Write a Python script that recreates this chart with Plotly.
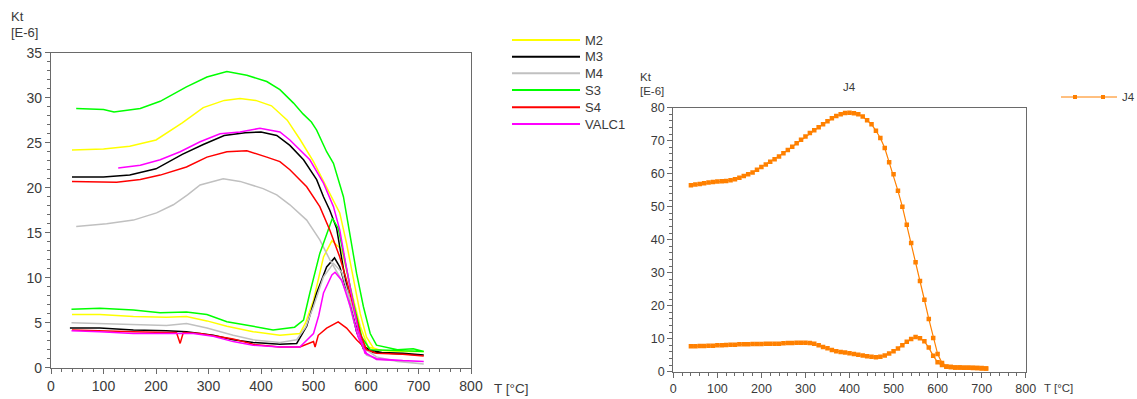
import plotly.graph_objects as go

W, H = 1137, 399

# ---------------- data (left chart) ----------------
M2_heat_T = [40, 100, 150, 200, 250, 290, 330, 360, 390, 420, 450, 475, 500, 525, 550, 563, 576, 589, 601, 614, 630, 670, 710]
M2_heat_K = [24.2, 24.3, 24.6, 25.3, 27.2, 28.9, 29.7, 29.9, 29.7, 29.1, 27.5, 25.3, 22.9, 20.1, 17.2, 13.8, 10.1, 6.0, 3.4, 2.2, 1.9, 1.8, 1.8]
M2_cool_T = [710, 670, 630, 604, 589, 570, 554, 535, 519, 500, 485, 474, 436, 385, 335, 297, 258, 220, 157, 93, 40]
M2_cool_K = [1.8, 1.8, 1.9, 2.3, 4.6, 9.0, 13.1, 14.1, 12.3, 7.5, 5.0, 3.8, 3.6, 4.0, 4.6, 5.2, 5.7, 5.6, 5.7, 5.9, 5.9]

M3_heat_T = [40, 100, 150, 200, 250, 290, 330, 370, 400, 430, 455, 481, 506, 519, 531, 544, 557, 570, 582, 595, 630, 670, 710]
M3_heat_K = [21.2, 21.2, 21.4, 22.1, 23.7, 24.8, 25.8, 26.1, 26.2, 25.8, 24.7, 23.1, 20.9, 19.0, 17.5, 15.5, 11.0, 7.0, 4.0, 2.1, 1.7, 1.6, 1.4]
M3_cool_T = [710, 670, 630, 614, 598, 579, 563, 550, 540, 525, 506, 487, 468, 436, 385, 347, 309, 258, 220, 157, 93, 36]
M3_cool_K = [1.4, 1.5, 1.6, 1.7, 2.3, 4.9, 8.6, 11.2, 12.2, 11.2, 8.3, 4.6, 2.7, 2.6, 2.8, 3.1, 3.6, 4.0, 4.1, 4.2, 4.4, 4.4]

M4_heat_T = [48, 106, 157, 201, 233, 260, 284, 328, 360, 404, 430, 455, 487, 512, 531, 550, 563, 576, 589, 601, 620, 660, 710]
M4_heat_K = [15.7, 16.0, 16.4, 17.2, 18.1, 19.2, 20.3, 21.0, 20.7, 19.9, 19.2, 18.1, 16.4, 14.2, 12.0, 10.1, 8.3, 5.3, 3.0, 1.4, 1.0, 0.7, 0.4]
M4_cool_T = [710, 660, 620, 600, 585, 570, 554, 538, 519, 500, 485, 468, 436, 385, 347, 297, 258, 220, 157, 93, 39]
M4_cool_K = [0.4, 0.7, 1.2, 2.0, 4.5, 7.5, 10.6, 11.6, 10.1, 6.8, 4.5, 3.1, 2.8, 3.1, 3.6, 4.4, 4.9, 4.7, 4.8, 4.9, 5.0]

S3_heat_T = [48, 100, 120, 170, 208, 258, 297, 335, 373, 411, 436, 462, 480, 496, 506, 525, 538, 557, 570, 582, 595, 608, 620, 660, 690, 710]
S3_heat_K = [28.8, 28.7, 28.4, 28.8, 29.6, 31.2, 32.3, 32.9, 32.5, 31.8, 30.9, 29.4, 28.2, 27.3, 26.4, 24.0, 22.7, 19.0, 14.6, 10.5, 6.8, 3.8, 2.5, 2.0, 2.1, 1.8]
S3_cool_T = [710, 660, 620, 608, 592, 576, 557, 547, 536, 512, 493, 481, 464, 423, 385, 335, 297, 258, 208, 157, 93, 39]
S3_cool_K = [1.8, 1.9, 2.0, 2.0, 3.4, 7.2, 12.7, 15.5, 16.6, 12.7, 8.3, 5.3, 4.5, 4.2, 4.6, 5.1, 5.9, 6.2, 6.1, 6.4, 6.6, 6.5]

S4_heat_T = [40, 125, 170, 208, 258, 297, 335, 373, 411, 436, 455, 487, 512, 531, 550, 563, 576, 589, 601, 620, 670, 710]
S4_heat_K = [20.7, 20.6, 20.9, 21.4, 22.3, 23.4, 24.0, 24.1, 23.4, 22.9, 22.0, 20.1, 17.9, 15.3, 12.3, 9.7, 6.8, 3.8, 2.0, 1.6, 1.5, 1.3]
S4_cool_T = [710, 670, 620, 601, 582, 563, 547, 525, 509, 503, 500, 474, 436, 385, 347, 309, 284, 252, 246, 239, 220, 157, 40]
S4_cool_K = [1.3, 1.5, 1.6, 2.0, 3.1, 4.4, 5.1, 4.4, 3.6, 2.3, 2.9, 2.3, 2.3, 2.6, 3.2, 3.6, 3.8, 3.9, 2.7, 3.9, 3.9, 4.0, 4.2]

VALC1_heat_T = [128, 170, 208, 246, 284, 322, 360, 398, 436, 455, 493, 519, 538, 550, 560, 573, 585, 598, 620, 670, 710]
VALC1_heat_K = [22.2, 22.5, 23.1, 24.0, 25.1, 26.0, 26.2, 26.6, 26.2, 25.3, 23.1, 20.5, 17.9, 15.3, 12.0, 7.9, 4.2, 1.6, 1.0, 0.8, 0.7]
VALC1_cool_T = [710, 670, 620, 601, 585, 570, 554, 541, 535, 519, 510, 500, 474, 436, 385, 347, 309, 271, 220, 157, 93, 39]
VALC1_cool_K = [0.7, 0.8, 0.9, 1.6, 3.4, 6.8, 9.7, 10.6, 10.3, 8.3, 5.8, 3.8, 2.3, 2.3, 2.5, 2.9, 3.5, 3.8, 3.8, 3.8, 4.0, 4.1]

series_names = ["M2", "M3", "M4", "S3", "S4", "VALC1"]
series_colors = ["#ffff00", "#000000", "#c0c0c0", "#00ff00", "#ff0000", "#ff00ff"]
series_data = [
    (M2_heat_T + M2_cool_T, M2_heat_K + M2_cool_K),
    (M3_heat_T + M3_cool_T, M3_heat_K + M3_cool_K),
    (M4_heat_T + M4_cool_T, M4_heat_K + M4_cool_K),
    (S3_heat_T + S3_cool_T, S3_heat_K + S3_cool_K),
    (S4_heat_T + S4_cool_T, S4_heat_K + S4_cool_K),
    (VALC1_heat_T + VALC1_cool_T, VALC1_heat_K + VALC1_cool_K),
]

# ---------------- data (right chart) ----------------
J4_heat_T = [40, 50, 60, 70, 80, 90, 100, 110, 120, 130, 140, 150, 160, 170, 180, 190, 200, 210, 220, 230,
             240, 250, 260, 270, 280, 290, 300, 310, 320, 330, 340, 350, 360, 370, 380, 390, 400, 410, 420, 430,
             440, 450, 460, 470, 480, 490, 500, 510, 520, 530, 540, 550, 560, 570, 580, 590, 600, 610, 620, 630,
             640, 650, 660, 670, 680, 690, 700, 710]
J4_heat_K = [56.5, 56.7, 56.9, 57.1, 57.3, 57.5, 57.6, 57.7, 57.8, 58.0, 58.3, 58.8, 59.3, 59.8, 60.4, 61.2, 62.0, 62.8, 63.6, 64.4,
             65.2, 66.2, 67.2, 68.2, 69.2, 70.3, 71.3, 72.3, 73.2, 74.1, 75.0, 75.9, 76.8, 77.5, 78.0, 78.4, 78.5, 78.3, 78.0, 77.3,
             76.2, 75.0, 73.0, 70.8, 67.8, 63.5, 59.8, 54.8, 50.0, 44.5, 39.0, 33.2, 27.5, 21.8, 16.0, 10.2, 5.4, 2.6, 1.6, 1.4,
             1.3, 1.3, 1.2, 1.2, 1.1, 1.1, 1.0, 1.0]
J4_cool_T = [710, 700, 690, 680, 670, 660, 650, 640, 630, 620, 610, 600, 590, 580, 570, 560, 550, 540, 530, 520,
             510, 500, 490, 480, 470, 460, 450, 440, 430, 420, 410, 400, 390, 380, 370, 360, 350, 340, 330, 320,
             310, 300, 290, 280, 270, 260, 250, 240, 230, 220, 210, 200, 190, 180, 170, 160, 150, 140, 130, 120,
             110, 100, 90, 80, 70, 60, 50, 40]
J4_cool_K = [1.0, 1.1, 1.1, 1.2, 1.2, 1.2, 1.3, 1.3, 1.4, 1.5, 2.0, 2.9, 4.8, 7.3, 9.2, 10.1, 10.5, 9.9, 9.1, 8.0,
             7.0, 6.2, 5.5, 4.9, 4.5, 4.4, 4.5, 4.7, 4.9, 5.1, 5.4, 5.6, 5.8, 6.0, 6.2, 6.6, 7.1, 7.5, 8.0, 8.5,
             8.7, 8.8, 8.8, 8.8, 8.7, 8.7, 8.6, 8.5, 8.5, 8.5, 8.5, 8.4, 8.4, 8.4, 8.3, 8.3, 8.3, 8.2, 8.2, 8.1,
             8.0, 8.0, 7.9, 7.9, 7.8, 7.8, 7.7, 7.7]

x_ticks = [0, 100, 200, 300, 400, 500, 600, 700, 800]
left_y_ticks = [0, 5, 10, 15, 20, 25, 30, 35]
right_y_ticks = [0, 10, 20, 30, 40, 50, 60, 70, 80]

# ---------------- figure ----------------
def px(x):
    return x / W

def py(y):
    return 1 - y / H

fig = go.Figure()
for name, color, (t, k) in zip(series_names, series_colors, series_data):
    fig.add_trace(go.Scatter(x=t, y=k, mode="lines", name=name, showlegend=False,
                             line=dict(color=color, width=1.5), xaxis="x", yaxis="y"))

orange = "#ff8000"
fig.add_trace(go.Scatter(x=J4_heat_T + J4_cool_T, y=J4_heat_K + J4_cool_K, mode="lines+markers", name="J4",
                         showlegend=False, line=dict(color=orange, width=1.2),
                         marker=dict(symbol="square", size=4.5, color=orange, line=dict(width=0)),
                         xaxis="x2", yaxis="y2"))

axis_col = "#6a6a6a"
tick_font_l = dict(family="Liberation Sans, Arial, sans-serif", size=14, color="#3a3a3a")
tick_font_r = dict(family="Liberation Sans, Arial, sans-serif", size=12.5, color="#3a3a3a")

common = dict(showgrid=False, zeroline=False, showline=True, linecolor=axis_col, linewidth=1.3,
              mirror=True, ticks="outside", tickcolor=axis_col, tickwidth=1, automargin=False)

fig.update_layout(
    template="none",
    width=W, height=H, autosize=False,
    margin=dict(l=0, r=0, t=0, b=0, pad=0),
    paper_bgcolor="white", plot_bgcolor="white",
    showlegend=False,
    xaxis=dict(domain=[px(51), px(471)], range=[0, 800], tickvals=x_ticks, ticklen=5,
               minor=dict(dtick=20, ticklen=3, tickcolor=axis_col, ticks="outside"),
               tickfont=tick_font_l, anchor="y", **common),
    yaxis=dict(domain=[py(367.7), py(52.7)], range=[0, 35], tickvals=left_y_ticks, ticklen=5,
               minor=dict(dtick=1, ticklen=3, tickcolor=axis_col, ticks="outside"),
               tickfont=tick_font_l, anchor="x", **common),
    xaxis2=dict(domain=[px(673.3), px(1025.7)], range=[0, 800], tickvals=x_ticks, ticklen=5,
                minor=dict(dtick=20, ticklen=3, tickcolor=axis_col, ticks="outside"),
                tickfont=tick_font_r, anchor="y2", **common),
    yaxis2=dict(domain=[py(371.7), py(107.7)], range=[0, 80], tickvals=right_y_ticks, ticklen=5,
                minor=dict(dtick=2, ticklen=3, tickcolor=axis_col, ticks="outside"),
                tickfont=tick_font_r, anchor="x2", **common),
)

txt = "#3a3a3a"
fam = "Liberation Sans, Arial, sans-serif"
annos = [
    ("Kt", 9, 16, 13, "left"),
    ("[E-6]", 9, 32, 13, "left"),
    ("T [°C]", 492, 388, 13.5, "left"),
    ("Kt", 638, 77, 11.5, "left"),
    ("[E-6]", 638, 91, 11.5, "left"),
    ("J4", 849, 87, 11.5, "center"),
    ("T [°C]", 1042, 388, 11.5, "left"),
]
for text, x, y, size, anchor in annos:
    fig.add_annotation(text=text, x=px(x), y=py(y), xref="paper", yref="paper", showarrow=False,
                       xanchor=anchor, yanchor="middle", font=dict(family=fam, size=size, color=txt))

# custom legend, left chart
legend_y = [40, 56.7, 73.3, 90, 107.3, 124]
for name, color, ly in zip(series_names, series_colors, legend_y):
    fig.add_shape(type="line", xref="paper", yref="paper", x0=px(512), x1=px(580), y0=py(ly), y1=py(ly),
                  line=dict(color=color, width=2))
    fig.add_annotation(text=name, x=px(583), y=py(ly), xref="paper", yref="paper", showarrow=False,
                       xanchor="left", yanchor="middle", font=dict(family=fam, size=13, color=txt))

# custom legend, right chart
jy = 97
fig.add_shape(type="line", xref="paper", yref="paper", x0=px(1061), x1=px(1117), y0=py(jy), y1=py(jy),
              line=dict(color=orange, width=1))
for mx in (1075, 1103):
    fig.add_shape(type="rect", xref="paper", yref="paper", x0=px(mx - 2), x1=px(mx + 2),
                  y0=py(jy + 2), y1=py(jy - 2), line=dict(width=0), fillcolor=orange)
fig.add_annotation(text="J4", x=px(1120), y=py(jy), xref="paper", yref="paper", showarrow=False,
                   xanchor="left", yanchor="middle", font=dict(family=fam, size=11.5, color=txt))

post = (
    "var st=document.createElement('style');"
    "st.innerHTML='html,body{margin:0;padding:0;overflow:hidden;}';"
    "document.head.appendChild(st);"
)
fig.write_html("out.html", config={"displayModeBar": False, "responsive": False}, post_script=post)
